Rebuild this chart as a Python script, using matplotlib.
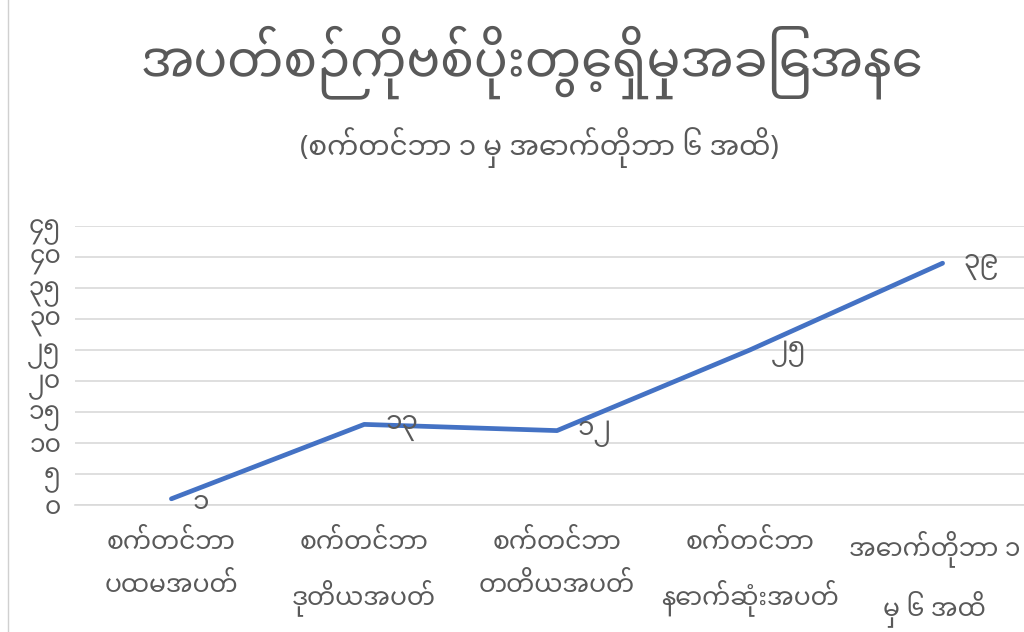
import matplotlib
matplotlib.use('Agg')
import matplotlib.pyplot as plt
from matplotlib.transforms import ScaledTranslation

# chart data
categories = ["စက်တင်ဘာ\nပထမအပတ်", "စက်တင်ဘာ\nဒုတိယအပတ်", "စက်တင်ဘာ\nတတိယအပတ်",
              "စက်တင်ဘာ\nနောက်ဆုံးအပတ်", "အောက်တိုဘာ ၁\nမှ ၆ အထိ"]
cases = [1, 13, 12, 25, 39]
case_labels = ["၁", "၁၃", "၁၂", "၂၅", "၃၉"]
yticks = [0, 5, 10, 15, 20, 25, 30, 35, 40, 45]
ytick_labels = ["၀", "၅", "၁၀", "၁၅", "၂၀", "၂၅", "၃၀", "၃၅", "၄၀", "၄၅"]
title = "အပတ်စဉ်ကိုဗစ်ပိုးတွေ့ရှိမှုအခြေအနေ"
subtitle = "(စက်တင်ဘာ ၁ မှ အောက်တိုဘာ ၆ အထိ)"

plt.rcParams['font.family'] = ['Noto Sans Myanmar', 'Myanmar Sans Pro', 'DejaVu Sans']

grey = '#595959'
blue = '#4472C4'

fig = plt.figure(figsize=(10.24, 6.32), dpi=100)
ax = fig.add_axes([75 / 1024, 1 - 505 / 632, 964 / 1024, 279 / 632])

x = list(range(len(cases)))
ax.plot(x, cases, color=blue, lw=3.4, solid_capstyle='round', zorder=3)
for xi, v, lab in zip(x, cases, case_labels):
    ax.annotate(lab, (xi, v), xytext=(15, -2), textcoords='offset points',
                ha='left', va='center', fontsize=19, color=grey)

ax.set_xlim(-0.5, len(cases) - 0.5)
ax.set_ylim(0, 45)
ax.set_yticks(yticks)
ax.set_yticklabels(ytick_labels, fontsize=18, color=grey)
ax.set_xticks(x)
ax.set_xticklabels(categories, fontsize=18, color=grey, linespacing=1.95)
ax.tick_params(axis='y', length=0, pad=10)
ax.tick_params(axis='x', length=0, pad=18)
ax.grid(axis='y', color='#d9d9d9', lw=1.2)
ax.set_axisbelow(True)
for s in ['top', 'right', 'left']:
    ax.spines[s].set_visible(False)
ax.spines['bottom'].set_color('#d9d9d9')
ax.spines['bottom'].set_linewidth(1.2)

# last label sits at the right edge, nudge it in a little
last = ax.get_xticklabels()[-1]
last.set_transform(last.get_transform() + ScaledTranslation(-8 / 100, 0, fig.dpi_scale_trans))

fig.text(532 / 1024, 1 - 62 / 632, title, ha='center', va='center',
         fontsize=36, color=grey)
fig.text(539 / 1024, 1 - 148 / 632, subtitle, ha='center', va='center',
         fontsize=20, color=grey)

fig.add_artist(plt.Line2D([8 / 1024, 8 / 1024], [0, 1], color='#d0d0d0', lw=1))

fig.savefig('out.png', dpi=100)
